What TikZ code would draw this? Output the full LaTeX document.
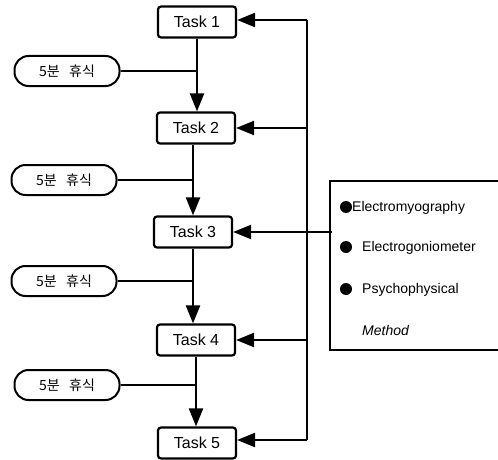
\documentclass[tikz,border=0pt]{standalone}
\usepackage{fontspec}
\setmainfont{Liberation Sans}
\newfontfamily\kr{Noto Sans CJK KR}
\usetikzlibrary{arrows.meta}
\begin{document}
\begin{tikzpicture}[x=1pt,y=-1pt,
  taskbox/.style={draw,line width=2.2pt,rounded corners=3pt,minimum width=78pt,minimum height=31pt,font=\fontsize{16}{18}\selectfont,inner sep=0pt},
  restbox/.style={draw,line width=2pt,rounded corners=14pt,minimum width=105pt,minimum height=30pt,font=\kr\fontsize{14}{16}\selectfont,inner sep=0pt},
  link/.style={line width=2.2pt},
  arr/.style={line width=2.2pt,-{Triangle[length=18pt,width=14pt]}},
  itemtxt/.style={font=\fontsize{14}{16}\selectfont,anchor=west,inner sep=0pt}]
\useasboundingbox (0,0) rectangle (498,460);
\node[taskbox] (t1) at (197,22) {Task 1};
\node[taskbox] (t2) at (196,128) {Task 2};
\node[taskbox] (t3) at (193,232) {Task 3};
\node[taskbox] (t4) at (196,340) {Task 4};
\node[taskbox] (t5) at (197,443) {Task 5};
\node[restbox] (r1) at (67,71) {5분\ \ \ 휴식};
\node[restbox] (r2) at (64,180) {5분\ \ \ 휴식};
\node[restbox] (r3) at (64,281) {5분\ \ \ 휴식};
\node[restbox] (r4) at (67,385) {5분\ \ \ 휴식};
% main flow
\draw[arr] (t1.south) -- (t1.south |- t2.north);
\draw[arr] (t2.south -| t3.north) -- (t3.north);
\draw[arr] (t3.south) -- (t3.south |- t4.north);
\draw[arr] (t4.south) -- (t4.south |- t5.north);
\draw[link] (r1.east) -- (r1.east -| t1.south);
\draw[link] (r2.east) -- (r2.east -| t3.north);
\draw[link] (r3.east) -- (r3.east -| t3.south);
\draw[link] (r4.east) -- (r4.east -| t4.south);
% bus
\coordinate (btop) at (307,20);
\coordinate (bbot) at (307,440);
\draw[link] (btop) -- (bbot);
\draw[arr] (btop) -- (t1.east |- btop);
\draw[arr] (307,128) -- (t2.east);
\draw[arr] (332,232) -- (t3.east);
\draw[arr] (307,340) -- (t4.east);
\draw[arr] (bbot) -- (t5.east |- bbot);
% method box
\draw[line width=1.8pt] (498,181) -- (330,181) -- (330,350) -- (498,350);
\fill (346,207) circle (6pt);
\node[itemtxt] (m1) at (352,208) {Electromyography};
\fill (346,247) circle (6pt);
\node[itemtxt] (m2) at (362,248) {Electrogoniometer};
\fill (346,289) circle (6pt);
\node[itemtxt] (m3) at (362,290) {Psychophysical};
\node[itemtxt,font=\itshape\fontsize{14}{16}\selectfont] (m4) at (362,330) {Method};
\end{tikzpicture}
\end{document}
